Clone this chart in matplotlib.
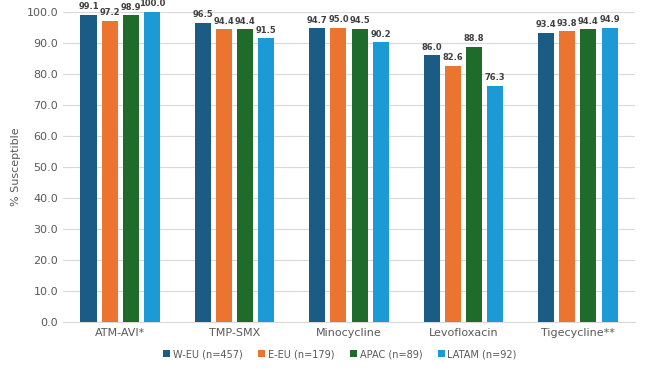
import matplotlib.pyplot as plt
import numpy as np

plt.rcParams['font.family'] = ['Liberation Sans Narrow', 'DejaVu Sans Condensed', 'DejaVu Sans']

drugs = ["ATM-AVI*", "TMP-SMX", "Minocycline", "Levofloxacin", "Tigecycline**"]
regions = ["W-EU (n=457)", "E-EU (n=179)", "APAC (n=89)", "LATAM (n=92)"]
w_eu = [99.1, 96.5, 94.7, 86.0, 93.4]
e_eu = [97.2, 94.4, 95.0, 82.6, 93.8]
apac = [98.9, 94.4, 94.5, 88.8, 94.4]
latam = [100.0, 91.5, 90.2, 76.3, 94.9]
colors = ["#1a5c85", "#ec7431", "#1f6b2c", "#1b9ad6"]

fig = plt.figure(figsize=(6.5, 3.77), dpi=100)
ax = fig.add_axes([0.097, 0.146, 0.88, 0.822])

x = np.arange(len(drugs))
width = 0.14
step = 0.185
for i, (vals, lab) in enumerate(zip([w_eu, e_eu, apac, latam], regions)):
    pos = x + (i - 1.5) * step
    bars = ax.bar(pos, vals, width, color=colors[i], label=lab, zorder=3)
    for b, v in zip(bars, vals):
        ax.text(b.get_x() + b.get_width() / 2, v + 1.2, f"{v:.1f}",
                ha="center", va="bottom", fontsize=6, color="#404040",
                fontweight="bold", clip_on=False)

ax.set_ylim(0, 100)
ax.set_xlim(-0.5, len(drugs) - 0.5)
ax.set_yticks(np.arange(0, 101, 10))
ax.set_yticklabels([f"{t:.1f}" for t in np.arange(0, 101, 10)])
ax.set_xticks(x)
ax.set_xticklabels(drugs)
ax.tick_params(axis="both", length=0, labelsize=8, colors="#595959")
ax.tick_params(axis="x", pad=4)
ax.grid(axis="y", color="#d9d9d9", linewidth=0.8, zorder=0)
for s in ["top", "right", "left"]:
    ax.spines[s].set_visible(False)
ax.spines["bottom"].set_color("#d9d9d9")
ax.set_ylabel("% Susceptible", fontsize=8, color="#595959")

ax.legend(loc="upper center", bbox_to_anchor=(0.484, -0.06), ncol=4, frameon=False,
          fontsize=7, handlelength=0.7, handleheight=0.7, handletextpad=0.3,
          columnspacing=1.6, labelcolor="#595959")

fig.savefig("out.png", dpi=100)
